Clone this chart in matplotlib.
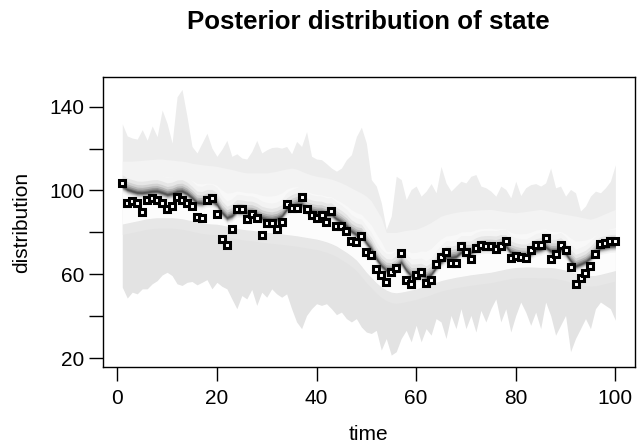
import numpy as np
import matplotlib
matplotlib.use('Agg')
import matplotlib.pyplot as plt

plt.rcParams['font.family'] = ['Liberation Sans', 'DejaVu Sans']

# time index
t = np.arange(1, 101)

# observed values (squares)
obs = [103.5, 94.0, 95.1, 93.8, 89.9, 95.3, 96.2, 95.4, 94.0, 91.2,
       92.6, 97.0, 95.4, 94.0, 92.4, 87.5, 86.7, 95.7, 96.2, 88.9,
       76.8, 73.9, 81.4, 91.2, 91.0, 86.3, 88.9, 87.0, 78.7, 84.7,
       84.5, 81.5, 85.2, 93.4, 91.8, 91.5, 96.7, 91.0, 88.2, 86.9,
       88.2, 85.0, 90.2, 83.1, 83.1, 80.7, 76.1, 75.5, 78.2, 70.5,
       69.2, 62.6, 59.6, 56.2, 61.1, 62.9, 70.1, 57.3, 55.3, 59.9,
       61.0, 56.1, 57.2, 64.9, 68.4, 70.8, 65.6, 65.4, 73.3, 70.8,
       67.3, 72.5, 74.2, 73.5, 73.5, 72.2, 73.5, 76.0, 67.8, 68.7,
       68.4, 67.6, 71.6, 74.1, 74.1, 77.3, 67.5, 69.7, 74.2, 71.4,
       63.5, 55.3, 58.3, 60.8, 63.8, 69.7, 74.7, 75.0, 76.0, 76.1]

# posterior median (dark core of the fan)
med = [102, 100.5, 99.7, 99, 98.9, 99.2, 99.6, 99.7, 99, 98.1,
       98.5, 99.5, 99.7, 98.5, 96.5, 94.2, 94, 95, 95, 93.4,
       89.5, 87, 88, 90.2, 90, 89.5, 89.4, 88.5, 87, 86.3,
       86, 86.5, 87.8, 91, 92.5, 93.4, 93.5, 91, 90, 89.5,
       89.4, 88.5, 88.6, 86.5, 85, 83.1, 80.5, 79, 78.4, 75,
       72, 67.5, 64.1, 62, 61.8, 63.5, 65.7, 62, 59.4, 59.5,
       59.8, 58.6, 60, 63.3, 66, 68.1, 68, 68.5, 70.5, 70.5,
       70.5, 72, 72.8, 73, 73, 72.8, 73.5, 73.5, 70.5, 69.5,
       69, 68.9, 70, 71.5, 72, 73, 71.2, 71.2, 72, 70,
       66.5, 64, 64.9, 66, 68, 70.5, 72.5, 73, 73.5, 73.6]

# outer upper edge of the fan
hi = [131.8, 126, 125, 124.5, 129, 124, 130.8, 125.7, 138.4, 132,
      122.6, 144.7, 148.2, 135.2, 121, 117.9, 122.6, 127.3, 120.2, 116.3,
      119.7, 123.9, 116.3, 117.5, 115.5, 115, 118.6, 123.9, 117.9, 119.4,
      120.5, 120.7, 120.2, 121, 117.5, 123.4, 121, 128.1, 116.3, 115,
      114.7, 112.8, 110.7, 109.2, 110.7, 114.7, 117.1, 125.7, 130.2, 122.6,
      105.2, 102.1, 94.2, 81.5, 87.8, 106.8, 105.2, 95.7, 100.5, 102.1,
      97.3, 99.7, 103.3, 98.9, 111.5, 103.6, 99.7, 102.1, 104.4, 103.6,
      106.8, 107.6, 102.1, 101.3, 99.7, 97.3, 102.1, 100.5, 96.5, 104.4,
      97.6, 101.3, 102.8, 103.3, 102.1, 103.6, 110.7, 101.3, 102.1, 97.3,
      100.5, 98.9, 90.2, 92.6, 97.3, 99.7, 98.9, 101.3, 104.4, 112.3]

# edge between the light and the lighter part of the upper fan
hi_in = [114, 114, 114, 114.2, 114.4, 114.6, 114.8, 115, 115, 114.7,
         114.5, 114.2, 114, 113.6, 113, 112.6, 112.3, 112, 111.8, 111.5,
         111, 110.5, 110, 109.4, 108.8, 108.4, 108.4, 108.4, 108.4, 108.4,
         108.8, 109.2, 109.8, 110.3, 110.7, 110.2, 109.2, 108.2, 107.4, 106.8,
         106.4, 106, 105.4, 104.6, 103.6, 102.5, 101.2, 100, 98.8, 97.3,
         95, 91, 87, 80, 80, 80, 80.5, 81, 81.3, 81.5,
         82.5, 83.5, 84.8, 86.3, 87.8, 88.5, 89.1, 89.6, 90, 90.2,
         90.4, 90.6, 90.8, 90.9, 91, 90.6, 90.2, 89.8, 89.6, 89.4,
         89.7, 90, 90.3, 90.7, 91, 90.5, 90, 89.5, 89, 88.6,
         88.2, 87.8, 87.3, 86.8, 86.3, 87, 88, 89, 90, 91]

# top of the grey lower part of the fan
lo_in = [84, 84.5, 85, 85.5, 86, 86.5, 86.8, 87, 87, 87,
         87, 86.8, 86.5, 86, 85.5, 85, 84.5, 84.2, 84, 83.9,
         83.5, 83, 82.5, 82, 81.5, 81.2, 81, 80.7, 80.3, 80,
         79.8, 79.5, 79.3, 79, 78.7, 78.4, 78, 77.6, 77.2, 76.8,
         76.2, 75.5, 74.6, 73.5, 72, 70.5, 68.8, 66.8, 64, 61,
         58.5, 56, 54, 52.5, 51.5, 51.2, 51.5, 52, 52.5, 53,
         53.8, 54.5, 55.3, 56.2, 57, 57.6, 58.1, 58.6, 59, 59.4,
         59.8, 60.1, 60.4, 60.7, 61, 61.5, 62, 62.5, 63, 63.3,
         63.4, 63.5, 63.5, 63.4, 63.3, 63.3, 63.3, 63, 62.5, 62,
         61.2, 60.5, 60, 59.6, 59.4, 59.5, 60, 60.6, 61.2, 61.8]

# outer lower edge of the fan
lo = [53.9, 48.7, 51.5, 50.7, 53.1, 53.1, 55.5, 57.0, 59.7, 61.0,
      59.4, 55.5, 54.7, 56.2, 56.6, 55.0, 56.2, 57.5, 53.1, 56.2,
      54.3, 53.1, 48.3, 43.6, 49.9, 48.3, 52.8, 45.2, 51.5, 49.1,
      53.1, 50.7, 49.1, 50.7, 43.6, 37.3, 34.1, 40.4, 43.6, 46.0,
      45.2, 46.0, 43.6, 40.8, 42.0, 38.9, 37.3, 38.9, 34.9, 32.5,
      31.8, 33.3, 23.9, 29.4, 21.5, 23.1, 29.4, 33.3, 27.8, 35.7,
      27.8, 34.1, 31.0, 38.9, 37.3, 29.4, 40.4, 34.1, 43.6, 34.1,
      40.4, 32.5, 42.8, 37.3, 43.6, 48.3, 37.3, 43.6, 32.5, 40.4,
      46.8, 42.0, 35.7, 42.0, 34.1, 46.8, 40.4, 31.0, 35.7, 40.4,
      23.1, 29.4, 34.1, 38.9, 34.1, 43.6, 46.8, 45.2, 43.6, 38.1]

yticks = [20, 40, 60, 80, 100, 120, 140]
ylabels = ['20', '', '60', '', '100', '', '140']
xticks = [0, 20, 40, 60, 80, 100]

med = np.array(med)
hi_in = np.array(hi_in)
lo_in = np.array(lo_in)

fig = plt.figure(figsize=(6.37, 4.43), dpi=100)
ax = fig.add_axes([0.161, 0.171, 0.836, 0.656])

ax.fill_between(t, med, hi, color='#ececec', lw=0)
ax.fill_between(t, med, hi_in, color='#f3f3f3', lw=0)
ax.fill_between(t, med, med + 0.5 * (hi_in - med), color='#f8f8f8', lw=0)
ax.fill_between(t, lo, med, color='#e3e3e3', lw=0)
ax.fill_between(t, lo_in - 5, lo_in, color='#e7e7e7', lw=0)
ax.fill_between(t, lo_in, med, color='#fcfcfc', lw=0)

# soft shading around the median, widest/lightest first
halo = [(8.0, 3.0, '#f3f3f3'),
        (5.5, 2.3, '#e6e6e6'),
        (3.8, 1.8, '#d2d2d2'),
        (2.6, 1.4, '#b6b6b6'),
        (1.7, 1.0, '#959595'),
        (1.0, 0.65, '#747474'),
        (0.5, 0.35, '#555555')]
for up, down, c in halo:
    ax.fill_between(t, med - down, med + up, color=c, lw=0)

ax.plot(t, obs, ls='none', marker='s', ms=4.9, mfc='white', mec='black',
        mew=2.2, zorder=5)

ax.set_xlim(-2.96, 103.96)
ax.set_ylim(15.7, 154.3)
ax.set_xticks(xticks)
ax.set_yticks(yticks)
ax.set_yticklabels(ylabels)
ax.tick_params(axis='x', length=10, width=1, pad=6, labelsize=15)
ax.tick_params(axis='y', length=10, width=1, pad=3, labelsize=15)
for s in ax.spines.values():
    s.set_linewidth(1.0)
    s.set_zorder(10)

ax.set_xlabel('time', fontsize=15, va='center')
ax.xaxis.set_label_coords(0.5, -0.23)
ax.set_ylabel('distribution', fontsize=15, va='center')
ax.yaxis.set_label_coords(-0.152, 0.5)

fig.text(0.5786, 1 - 22 / 443, 'Posterior distribution of state',
         fontsize=18.6, fontweight='bold', ha='center', va='center')

fig.savefig('out.png', dpi=100)
